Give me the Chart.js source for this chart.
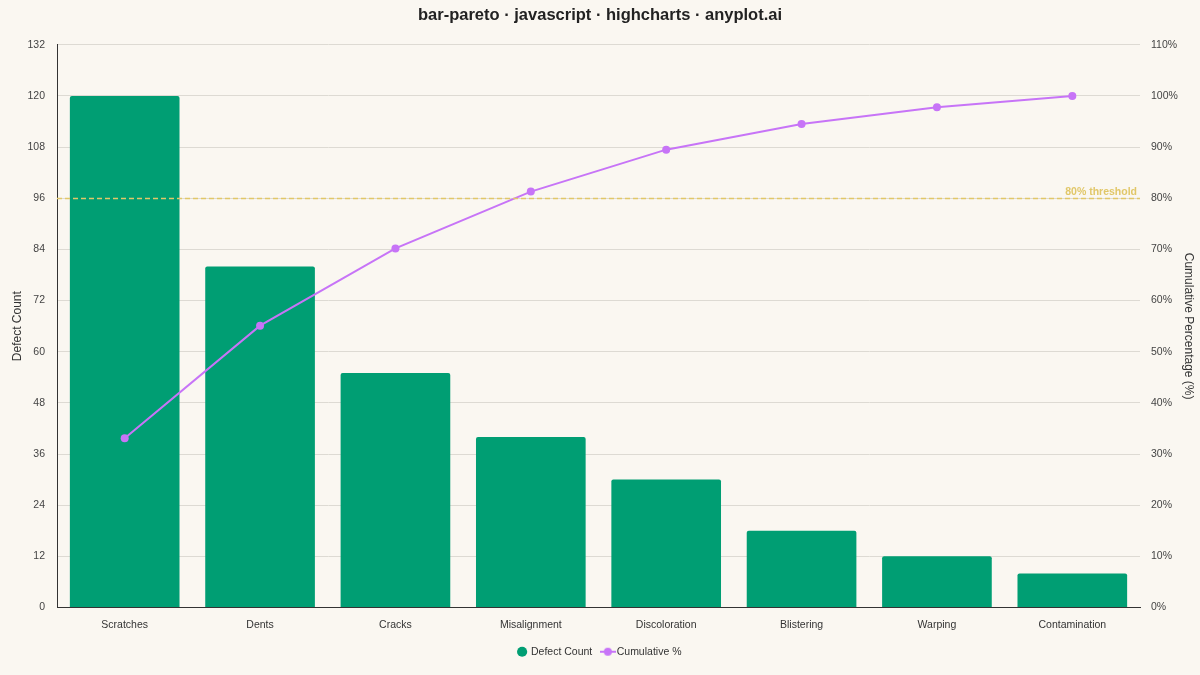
<!DOCTYPE html>
<html><head><meta charset="utf-8">
<script src="https://cdn.jsdelivr.net/npm/chart.js@4"></script>
<style>html,body{margin:0;padding:0;background:#FAF7F1;}#wrap{width:1200px;height:675px;}</style>
</head><body><div id="wrap"><canvas id="c" width="1200" height="675"></canvas></div>
<script>
const categories = ["Scratches","Dents","Cracks","Misalignment","Discoloration","Blistering","Warping","Contamination"];
const defectCounts = [120,80,55,40,30,18,12,8];
const cumulativePct = [33.1,55.1,70.2,81.3,89.5,94.5,97.8,100];
const thresholdPct = 80;
const BAR = "#009E73", LINE = "#C774F7", THR = "#E1C769";

function lineIcon(){
  const c=document.createElement('canvas');c.width=16;c.height=10;
  const x=c.getContext('2d');
  x.strokeStyle=LINE;x.lineWidth=2;x.beginPath();x.moveTo(0,5);x.lineTo(16,5);x.stroke();
  x.fillStyle=LINE;x.beginPath();x.arc(8,5,4,0,Math.PI*2);x.fill();
  return c;
}
const thresholdPlugin={id:'thr',afterDatasetsDraw(chart){
  const {ctx,chartArea:a,scales}=chart;const y=Math.round(scales.y2.getPixelForValue(thresholdPct))+0.5;
  ctx.save();ctx.strokeStyle=THR;ctx.lineWidth=1.5;ctx.setLineDash([5,3]);
  ctx.beginPath();ctx.moveTo(a.left,y);ctx.lineTo(a.right,y);ctx.stroke();
  ctx.setLineDash([]);ctx.fillStyle=THR;ctx.font='bold 10.5px "Liberation Sans", Arial, sans-serif';
  ctx.textAlign='right';ctx.textBaseline='bottom';ctx.fillText('80% threshold',a.right-3,y-1);ctx.restore();
}};
const bgPlugin={id:'bg',beforeDraw(chart){const c=chart.ctx;c.save();c.fillStyle='#FAF7F1';c.fillRect(0,0,chart.width,chart.height);c.restore();}};
Chart.defaults.font.family='"Liberation Sans", Arial, sans-serif';
new Chart(document.getElementById('c'),{
  data:{labels:categories,datasets:[
    {type:'bar',label:'Defect Count',data:defectCounts,yAxisID:'y',backgroundColor:BAR,borderRadius:2,borderSkipped:'bottom',categoryPercentage:1,barPercentage:0.81,order:1},
    {type:'line',label:'Cumulative %',data:cumulativePct,yAxisID:'y2',borderColor:LINE,backgroundColor:LINE,borderWidth:2,pointRadius:4,pointHoverRadius:4,pointStyle:'circle',order:0,pointBackgroundColor:LINE,pointBorderWidth:0,tension:0}
  ]},
  options:{responsive:false,animation:false,
    layout:{padding:{top:0,left:0,right:0,bottom:8}},
    plugins:{
      title:{display:true,text:'bar-pareto · javascript · highcharts · anyplot.ai',color:'#222',font:{size:16.5,weight:'bold'},padding:{top:6,bottom:19}},
      legend:{position:'bottom',labels:{usePointStyle:true,color:'#333',font:{size:10.5},boxWidth:7.2,boxHeight:7.2,padding:12,
        generateLabels(chart){
          return [
            {text:'Defect Count',fillStyle:BAR,strokeStyle:BAR,lineWidth:0,pointStyle:'circle',datasetIndex:0,fontColor:'#333'},
            {text:'Cumulative %',fillStyle:LINE,strokeStyle:LINE,lineWidth:0,pointStyle:lineIcon(),datasetIndex:1,fontColor:'#333'}
          ];
        }}},
      tooltip:{enabled:false}
    },
    scales:{
      x:{grid:{display:false,drawTicks:false},border:{color:'#333',width:1},ticks:{color:'#333',font:{size:10.5},padding:11},
        afterFit(s){s.height=27;}},
      y:{position:'left',min:0,max:132,ticks:{stepSize:12,color:'#444',font:{size:10.5},padding:12},
        grid:{color:'#DDDAD3',drawTicks:false},border:{color:'#333',width:1},
        title:{display:true,text:'Defect Count',color:'#333',font:{size:12},padding:{top:10,bottom:4}},
        afterFit(s){s.width=57;}},
      y2:{position:'right',min:0,max:110,ticks:{stepSize:10,color:'#444',font:{size:10.5},padding:11,callback:v=>v+'%'},
        grid:{display:false,drawTicks:false},border:{display:false},
        title:{display:true,text:'Cumulative Percentage (%)',color:'#333',font:{size:12},padding:{top:4,bottom:5}},
        afterFit(s){s.width=60;}}
    }
  },
  plugins:[bgPlugin,thresholdPlugin]
});
</script></body></html>
